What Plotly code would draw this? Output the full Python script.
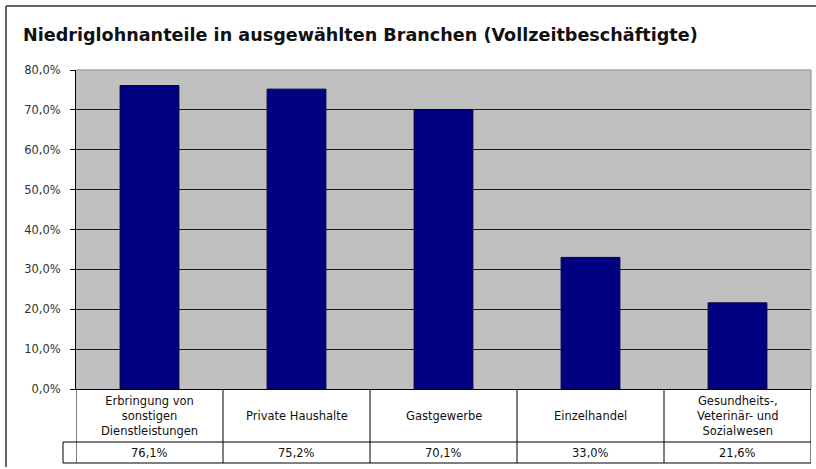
import plotly.graph_objects as go

# ---- data ----
categories = [
    "Erbringung von sonstigen Dienstleistungen",
    "Private Haushalte",
    "Gastgewerbe",
    "Einzelhandel",
    "Gesundheits-, Veterinär- und Sozialwesen",
]
category_labels = [
    "Erbringung von<br>sonstigen<br>Dienstleistungen",
    "Private Haushalte",
    "Gastgewerbe",
    "Einzelhandel",
    "Gesundheits-,<br>Veterinär- und<br>Sozialwesen",
]
values = [0.761, 0.752, 0.701, 0.330, 0.216]
value_labels = ["76,1%", "75,2%", "70,1%", "33,0%", "21,6%"]
y_ticks = [0, 0.1, 0.2, 0.3, 0.4, 0.5, 0.6, 0.7, 0.8]
title_text = "Niedriglohnanteile in ausgewählten Branchen (Vollzeitbeschäftigte)"

# ---- layout geometry (pixels) ----
W, H = 816, 469
ML, MR, MT, MB = 76, 5, 70, 80
PW = W - ML - MR
PH = H - MT - MB


def px(p):
    return (p - ML) / PW


def py(p):
    return (H - MB - p) / PH


FONT = "DejaVu Sans"
SMALL = 11.5

fig = go.Figure()
fig.add_trace(go.Bar(
    x=categories,
    y=values,
    width=0.4,
    marker=dict(color="#000080", line=dict(color="#000040", width=1)),
    hoverinfo="x+y",
))

shapes = []
line_black = dict(color="#000000", width=1)
# plot-area border (light grey), top and right, drawn over the 80% gridline
shapes.append(dict(type="line", xref="paper", yref="paper", x0=0, x1=1, y0=1, y1=1,
                   line=dict(color="#a6a6a6", width=1.5), layer="above"))
shapes.append(dict(type="line", xref="paper", yref="paper", x0=1, x1=1, y0=0, y1=1,
                   line=dict(color="#a6a6a6", width=1.5), layer="above"))
# table: vertical dividers between categories
n = len(categories)
for i in range(n + 1):
    shapes.append(dict(type="line", xref="x", yref="paper", x0=i - 0.5, x1=i - 0.5,
                       y0=py(389), y1=py(463), line=line_black))
# table: horizontal lines
for yy in (442, 463):
    shapes.append(dict(type="line", xref="paper", yref="paper", x0=px(63), x1=1,
                       y0=py(yy), y1=py(yy), line=line_black))
# legend-key cell left border
shapes.append(dict(type="line", xref="paper", yref="paper", x0=px(63), x1=px(63),
                   y0=py(442), y1=py(463), line=line_black))
# outer chart frame (top + left)
shapes.append(dict(type="line", xref="paper", yref="paper", x0=px(6), x1=px(816),
                   y0=py(6), y1=py(6), line=dict(color="#333333", width=1.5)))
shapes.append(dict(type="line", xref="paper", yref="paper", x0=px(6), x1=px(6),
                   y0=py(6), y1=py(467), line=dict(color="#333333", width=1.5)))

annotations = []
for i, lab in enumerate(category_labels):
    annotations.append(dict(x=i, y=py(415.5), xref="x", yref="paper", text=lab,
                            showarrow=False, xanchor="center", yanchor="middle",
                            align="center",
                            font=dict(family=FONT, size=SMALL, color="#111111")))
for i, lab in enumerate(value_labels):
    annotations.append(dict(x=i, y=py(452.5), xref="x", yref="paper", text=lab,
                            showarrow=False, xanchor="center", yanchor="middle",
                            font=dict(family=FONT, size=SMALL, color="#111111")))

fig.update_layout(
    width=W, height=H,
    margin=dict(l=ML, r=MR, t=MT, b=MB, pad=0),
    paper_bgcolor="#ffffff",
    plot_bgcolor="#c0c0c0",
    separators=",.",
    showlegend=False,
    title=dict(text=title_text, xref="container", yref="container",
               x=23 / W, y=1 - 35 / H, xanchor="left", yanchor="middle",
               font=dict(family="DejaVu Sans", size=17.6, color="#111111", weight="bold")),
    xaxis=dict(showticklabels=False, ticks="", showgrid=False, zeroline=False,
               showline=True, linecolor="#000000", linewidth=1,
               range=[-0.5, n - 0.5]),
    yaxis=dict(range=[0, 0.8], tickvals=y_ticks, tickformat=".1%",
               ticks="outside", ticklen=5, tickcolor="#000000", tickwidth=1,
               showline=True, linecolor="#000000", linewidth=1,
               showgrid=True, gridcolor="#1a1a1a", gridwidth=1, zeroline=False,
               tickfont=dict(family=FONT, size=SMALL, color="#333333"), ticklabelstandoff=7),
    shapes=shapes,
    annotations=annotations,
    bargap=0.6,
)

fig.write_html("out.html", config={"displayModeBar": False},
               post_script="document.body.style.margin='0';document.body.style.overflow='hidden';")
